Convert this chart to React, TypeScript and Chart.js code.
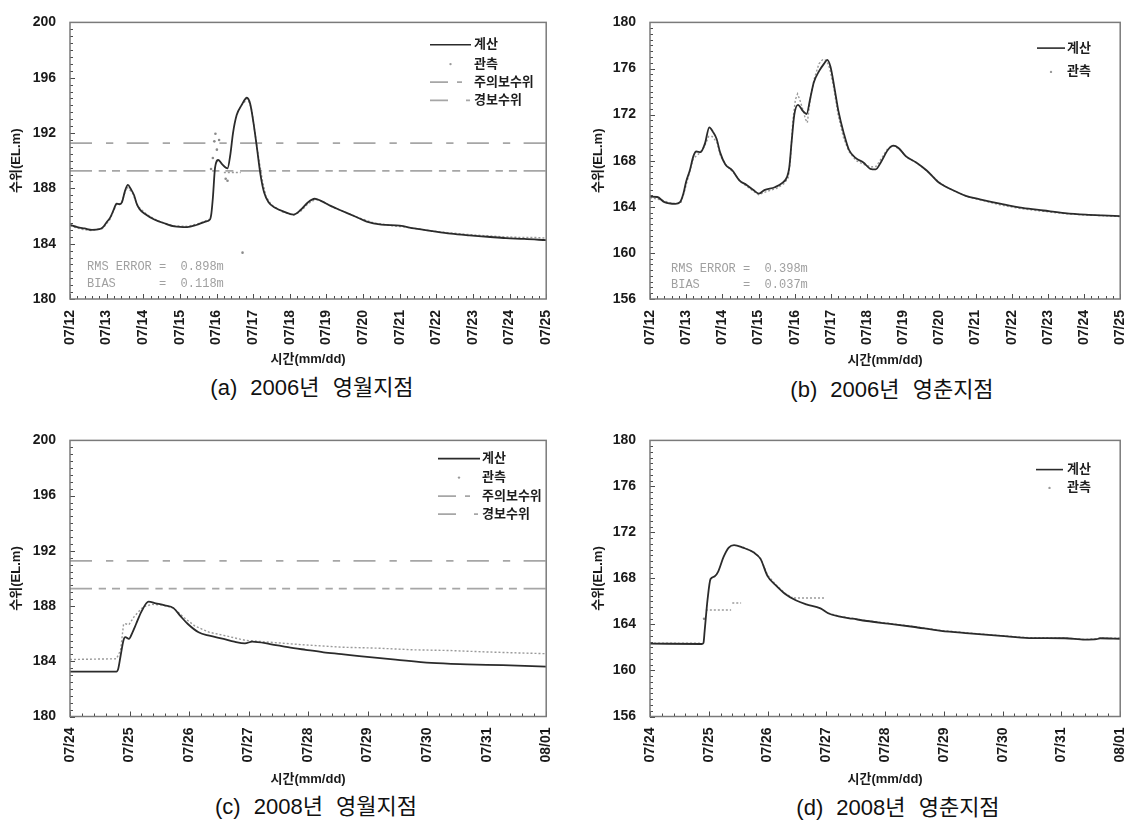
import React, { useEffect, useRef } from "react";
import { Chart, registerables } from "chart.js";

Chart.register(...registerables);

const FONT = "'Liberation Sans', 'Noto Sans CJK KR', sans-serif";
Chart.defaults.font.family = FONT;

// ---------- tick labels ----------
const DAYS_2006 = ["07/12", "07/13", "07/14", "07/15", "07/16", "07/17", "07/18", "07/19", "07/20", "07/21", "07/22", "07/23", "07/24", "07/25"];
const DAYS_2008 = ["07/24", "07/25", "07/26", "07/27", "07/28", "07/29", "07/30", "07/31", "08/01"];

// ---------- (a) 2006 영월 ----------
const A_CALC_T = [0, 0.2, 0.4, 0.6, 0.8, 0.9, 1.0, 1.1, 1.2, 1.27, 1.35, 1.42, 1.5, 1.58, 1.66, 1.75, 1.82, 1.9, 2.05, 2.3, 2.6, 2.85, 3.2, 3.45, 3.7, 3.82, 3.86, 3.9, 3.96, 4.05, 4.15, 4.3, 4.38, 4.45, 4.55, 4.68, 4.83, 4.92, 5.0, 5.1, 5.2, 5.3, 5.42, 5.6, 5.85, 6.1, 6.3, 6.5, 6.68, 6.85, 7.1, 7.4, 7.8, 8.1, 8.5, 9.0, 9.4, 9.9, 10.4, 10.9, 11.4, 11.9, 12.4, 13];
const A_CALC_V = [185.36, 185.2, 185.1, 185.0, 185.05, 185.2, 185.55, 185.9, 186.5, 186.9, 186.85, 187.0, 187.8, 188.25, 187.95, 187.5, 186.9, 186.5, 186.15, 185.75, 185.45, 185.25, 185.2, 185.35, 185.6, 185.75, 186.2, 187.3, 189.5, 190.05, 189.75, 189.45, 190.5, 192.0, 193.3, 194.0, 194.55, 194.1, 192.9, 191.0, 189.0, 187.7, 187.0, 186.6, 186.3, 186.1, 186.45, 187.0, 187.25, 187.1, 186.75, 186.4, 185.95, 185.6, 185.38, 185.3, 185.1, 184.9, 184.72, 184.6, 184.5, 184.4, 184.35, 184.25];
const A_OBS_T = [0, 0.3, 0.6, 0.9, 1.1, 1.25, 1.4, 1.55, 1.7, 1.85, 2.1, 2.4, 2.8, 3.2, 3.5, 3.8, 3.81, 4.2, 4.66, 4.67, 4.75, 4.85, 4.95, 5.05, 5.15, 5.25, 5.35, 5.5, 5.8, 6.1, 6.3, 6.5, 6.7, 6.9, 7.2, 7.5, 7.9, 8.3, 8.8, 9.3, 9.8, 10.3, 10.8, 11.3, 11.8, 12.3, 12.7, 13];
const A_OBS_V = [185.3, 185.05, 184.95, 185.1, 185.8, 186.8, 186.9, 188.1, 187.7, 186.7, 186.1, 185.65, 185.3, 185.25, 185.45, 185.75, null, 189.15, 189.15, null, 194.2, 194.5, 193.8, 192.0, 190.2, 188.6, 187.4, 186.8, 186.3, 186.05, 186.35, 186.9, 187.2, 187.05, 186.6, 186.3, 185.85, 185.5, 185.3, 185.15, 184.95, 184.8, 184.68, 184.58, 184.5, 184.45, 184.45, 184.4];
const A_OUT_T = [3.85, 3.9, 3.94, 3.97, 4.01, 4.07, 4.25, 4.3, 4.71];
const A_OUT_V = [189.4, 190.2, 191.4, 191.95, 190.8, 191.5, 188.7, 188.55, 183.35];

// ---------- (b) 2006 영춘 ----------
const B_CALC_T = [0, 0.2, 0.4, 0.7, 0.83, 0.92, 1.0, 1.1, 1.2, 1.28, 1.4, 1.52, 1.64, 1.74, 1.84, 1.94, 2.08, 2.28, 2.47, 2.67, 2.86, 3.01, 3.16, 3.45, 3.65, 3.79, 3.85, 3.92, 3.99, 4.09, 4.23, 4.33, 4.43, 4.53, 4.67, 4.82, 4.9, 4.99, 5.09, 5.21, 5.36, 5.5, 5.7, 5.9, 6.09, 6.24, 6.38, 6.58, 6.73, 6.87, 7.07, 7.36, 7.65, 7.95, 8.14, 8.44, 8.73, 9.12, 9.71, 10.3, 10.88, 11.47, 12.05, 12.5, 13];
const B_CALC_V = [164.88, 164.85, 164.4, 164.25, 164.4, 165.1, 166.2, 167.15, 168.4, 168.8, 168.75, 169.5, 170.9, 170.5, 169.9, 168.7, 167.7, 167.15, 166.3, 165.9, 165.45, 165.15, 165.45, 165.7, 166.05, 166.6, 167.4, 169.8, 172.0, 172.85, 172.3, 172.05, 173.4, 174.8, 175.75, 176.45, 176.75, 176.15, 174.5, 172.3, 170.35, 168.95, 168.2, 167.85, 167.3, 167.25, 167.85, 168.95, 169.3, 169.1, 168.4, 167.85, 167.15, 166.2, 165.8, 165.35, 164.95, 164.65, 164.25, 163.9, 163.68, 163.46, 163.32, 163.25, 163.19];
const B_OBS_T = [0, 0.3, 0.6, 0.85, 0.95, 1.05, 1.2, 1.35, 1.5, 1.62, 1.72, 1.85, 1.95, 2.1, 2.3, 2.5, 2.75, 3.0, 3.2, 3.5, 3.7, 3.82, 3.88, 3.95, 4.02, 4.08, 4.15, 4.22, 4.3, 4.35, 4.45, 4.55, 4.67, 4.78, 4.88, 4.97, 5.07, 5.2, 5.35, 5.5, 5.7, 5.9, 6.1, 6.25, 6.4, 6.58, 6.73, 6.9, 7.1, 7.4, 7.7, 8.0, 8.2, 8.5, 8.8, 9.2, 9.7, 10.3, 10.9, 11.5, 12.1, 12.6, 13];
const B_OBS_V = [164.8, 164.6, 164.3, 164.3, 165.3, 166.5, 168.2, 168.6, 169.2, 170.1, 170.1, 169.6, 168.4, 167.6, 167.0, 166.2, 165.6, 165.05, 165.3, 165.6, 166.0, 166.5, 168.0, 171.5, 173.3, 173.8, 173.2, 172.5, 171.6, 171.3, 173.8, 175.2, 176.4, 176.8, 176.7, 176.0, 174.5, 172.0, 170.0, 168.8, 168.0, 167.7, 167.45, 167.5, 168.2, 169.1, 169.3, 169.0, 168.3, 167.75, 167.0, 166.1, 165.7, 165.25, 164.85, 164.55, 164.15, 163.82, 163.6, 163.4, 163.28, 163.22, 163.15];
const B_OUT_T: number[] = [];
const B_OUT_V: number[] = [];

// ---------- (c) 2008 영월 ----------
const C_CALC_T = [0, 0.78, 0.81, 0.85, 0.9, 0.93, 0.99, 1.05, 1.11, 1.2, 1.32, 1.44, 1.59, 1.74, 1.86, 1.98, 2.16, 2.34, 2.58, 2.76, 2.94, 3.06, 3.36, 3.66, 3.96, 4.26, 4.56, 4.86, 5.47, 6.07, 6.67, 7.27, 8];
const C_CALC_V = [183.25, 183.25, 183.45, 184.4, 185.55, 185.75, 185.62, 186.1, 186.7, 187.6, 188.32, 188.2, 188.05, 187.85, 187.25, 186.7, 186.1, 185.85, 185.62, 185.42, 185.3, 185.42, 185.25, 185.02, 184.83, 184.65, 184.52, 184.38, 184.12, 183.88, 183.78, 183.72, 183.62];
const C_OBS_T = [0, 0.78, 0.85, 0.9, 0.93, 0.99, 1.08, 1.23, 1.38, 1.56, 1.74, 1.92, 2.1, 2.34, 2.58, 2.94, 3.36, 3.96, 4.56, 5.17, 5.77, 6.37, 6.97, 7.57, 8];
const C_OBS_V = [184.13, 184.18, 184.8, 186.7, 186.72, 186.65, 187.25, 187.95, 188.12, 188.08, 187.85, 187.15, 186.55, 186.1, 185.88, 185.52, 185.38, 185.18, 185.02, 184.95, 184.83, 184.78, 184.68, 184.6, 184.55];
const C_OUT_T: number[] = [];
const C_OUT_V: number[] = [];

// ---------- (d) 2008 영춘 ----------
const D_CALC_T = [0, 0.88, 0.91, 0.93, 0.98, 1.03, 1.1, 1.16, 1.25, 1.34, 1.43, 1.58, 1.76, 1.88, 2.0, 2.15, 2.3, 2.48, 2.66, 2.9, 3.03, 3.21, 3.45, 3.69, 4.05, 4.47, 4.95, 5.43, 5.97, 6.45, 7.06, 7.4, 7.6, 7.66, 8];
const D_CALC_V = [162.34, 162.3, 162.4, 163.45, 166.2, 167.95, 168.18, 168.6, 169.85, 170.68, 170.9, 170.68, 170.27, 169.7, 168.2, 167.35, 166.65, 166.1, 165.75, 165.4, 164.98, 164.7, 164.5, 164.3, 164.07, 163.8, 163.45, 163.23, 163.0, 162.82, 162.8, 162.68, 162.72, 162.8, 162.76];
const D_OBS_T = [0, 0.5, 0.88, 0.89, 0.95, 1.38, 1.39, 1.4, 1.55, 1.56, 1.58, 1.76, 1.88, 2.0, 2.15, 2.3, 2.42, 2.43, 2.45, 2.97, 2.98, 3.03, 3.21, 3.45, 3.69, 4.05, 4.47, 4.95, 5.43, 5.97, 6.45, 7.06, 7.4, 7.6, 7.66, 8];
const D_OBS_V = [162.38, 162.36, 162.38, null, 165.26, 165.26, null, 165.87, 165.87, null, 170.72, 170.3, 169.75, 168.3, 167.4, 166.7, 166.35, null, 166.3, 166.3, null, 165.0, 164.72, 164.52, 164.32, 164.1, 163.83, 163.48, 163.26, 163.03, 162.85, 162.83, 162.7, 162.75, 162.82, 162.8];
const D_OUT_T = [0.92];
const D_OUT_V = [164.5];

// ---------- flood levels (영월) ----------
const LEVEL_NAMES = ["주의보수위", "경보수위"];
const LEVEL_VALUES = [189.26, 191.27];

// ---------- statistics ----------
const STATS_A = ["RMS ERROR =  0.898m", "BIAS      =  0.118m"];
const STATS_B = ["RMS ERROR =  0.398m", "BIAS      =  0.037m"];

const CAPTIONS = ["(a) 2006년 영월지점", "(b) 2006년 영춘지점", "(c) 2008년 영월지점", "(d) 2008년 영춘지점"];

// ---------- helpers ----------
const pts = (t: number[], v: (number | null)[]) => t.map((x, i) => ({ x, y: v[i] }));

const W = 574;
const H = 372;

type PanelSpec = {
  left: number;
  top: number;
  yAxisW: number;
  padRight: number;
  padTop: number;
  yMin: number;
  yMax: number;
  labels: string[];
  calc: any[];
  obs: any[];
  out: any[];
  levels: boolean;
  yTitleOffset: number;
  xTitlePadBottom: number;
  legendX0: number;
  legendX1: number;
  legendTextX: number;
  legendRows: number[];
  stats: string[] | null;
  statsX: number;
  statsRows: number[];
};

const LEVEL_DASHES = [
  [22, 6.7, 7.3, 6, 8, 6.7],
  [22, 14, 7.3, 13.4],
];
const LEVEL_LEGEND_DASH = [
  [18, 9, 5, 200],
  [18, 18, 4, 200],
];

function makeDeco(spec: PanelSpec) {
  return {
    id: "deco",
    afterDatasetsDraw(chart: any) {
      const { ctx, chartArea: a, scales } = chart;
      const xs = scales.x;
      const ys = scales.y;
      ctx.save();
      // inward ticks
      ctx.strokeStyle = "#4a4a4a";
      ctx.lineWidth = 1;
      ctx.beginPath();
      const nY = Math.round((spec.yMax - spec.yMin) * 2);
      for (let k = 0; k <= nY; k++) {
        const v = spec.yMin + k / 2;
        const py = Math.round(ys.getPixelForValue(v)) + 0.5;
        const len = k % 8 === 0 ? 5 : 3;
        ctx.moveTo(a.left, py);
        ctx.lineTo(a.left + len, py);
      }
      const nX = (spec.labels.length - 1) * 5;
      for (let k = 0; k <= nX; k++) {
        const px = Math.round(xs.getPixelForValue(k / 5)) + 0.5;
        const len = k % 5 === 0 ? 5 : 3;
        ctx.moveTo(px, a.bottom);
        ctx.lineTo(px, a.bottom - len);
      }
      ctx.stroke();
      // frame
      ctx.strokeStyle = "#7a7a7a";
      ctx.lineWidth = 1.5;
      ctx.strokeRect(a.left, a.top, a.right - a.left, a.bottom - a.top);

      // legend
      const items: { label: string; kind: string; dash?: number[] }[] = [
        { label: "계산", kind: "line" },
        { label: "관측", kind: "dot" },
      ];
      if (spec.levels) {
        items.push({ label: LEVEL_NAMES[0], kind: "dash", dash: LEVEL_LEGEND_DASH[0] });
        items.push({ label: LEVEL_NAMES[1], kind: "dash", dash: LEVEL_LEGEND_DASH[1] });
      }
      const x0 = a.left + spec.legendX0;
      const x1 = a.left + spec.legendX1;
      items.forEach((it, i) => {
        const y = a.top + spec.legendRows[i];
        if (it.kind === "line") {
          ctx.setLineDash([]);
          ctx.strokeStyle = "#2b2b2b";
          ctx.lineWidth = 1.6;
          ctx.beginPath();
          ctx.moveTo(x0, y);
          ctx.lineTo(x1, y);
          ctx.stroke();
        } else if (it.kind === "dot") {
          ctx.fillStyle = "#9a9a9a";
          ctx.beginPath();
          ctx.arc((x0 + x1) / 2, y, 1.2, 0, Math.PI * 2);
          ctx.fill();
        } else {
          ctx.setLineDash(it.dash || []);
          ctx.strokeStyle = "#a6a6a6";
          ctx.lineWidth = 1.8;
          ctx.beginPath();
          ctx.moveTo(x0, y);
          ctx.lineTo(x1, y);
          ctx.stroke();
          ctx.setLineDash([]);
        }
        ctx.fillStyle = "#1e1e1e";
        ctx.font = "bold 13px " + FONT;
        ctx.textAlign = "left";
        ctx.textBaseline = "middle";
        ctx.fillText(it.label, a.left + spec.legendTextX, y);
      });

      // statistics text
      if (spec.stats) {
        ctx.fillStyle = "#a0a0a0";
        ctx.font = "12px 'Liberation Mono', 'DejaVu Sans Mono', monospace";
        ctx.textAlign = "left";
        ctx.textBaseline = "middle";
        spec.stats.forEach((s, i) => {
          ctx.fillText(s, a.left + spec.statsX, a.top + spec.statsRows[i]);
        });
      }
      ctx.restore();
    },
  };
}

function buildConfig(spec: PanelSpec): any {
  const datasets: any[] = [
    {
      label: "계산",
      data: spec.calc,
      borderColor: "#2b2b2b",
      borderWidth: 1.8,
      pointRadius: 0,
      cubicInterpolationMode: "monotone",
      order: 0,
    },
    {
      label: "관측",
      data: spec.obs,
      borderColor: "#9a9a9a",
      borderWidth: 1.4,
      borderDash: [2, 2],
      pointRadius: 0,
      spanGaps: false,
      order: 2,
    },
    {
      label: "관측 ",
      data: spec.out,
      showLine: false,
      pointRadius: 1.3,
      pointBorderWidth: 0,
      pointBackgroundColor: "#8a8a8a",
      order: 1,
    },
  ];
  if (spec.levels) {
    const last = spec.labels.length - 1;
    LEVEL_VALUES.forEach((v, i) => {
      datasets.push({
        label: LEVEL_NAMES[i],
        data: [
          { x: 0, y: v },
          { x: last, y: v },
        ],
        borderColor: "#a6a6a6",
        borderWidth: 1.8,
        borderDash: LEVEL_DASHES[i],
        pointRadius: 0,
        order: 3,
      });
    });
  }
  const tickFont = { size: 14, weight: "bold" as const, family: FONT };
  const titleFont = { size: 13, weight: "bold" as const, family: FONT };
  return {
    type: "line",
    data: { datasets },
    options: {
      animation: false,
      responsive: false,
      maintainAspectRatio: false,
      devicePixelRatio: 1,
      events: [],
      layout: { padding: { left: 0, right: spec.padRight, top: spec.padTop, bottom: 0 } },
      scales: {
        x: {
          type: "linear",
          min: 0,
          max: spec.labels.length - 1,
          grid: { display: false, drawTicks: false },
          border: { display: false },
          ticks: {
            stepSize: 1,
            autoSkip: false,
            minRotation: 90,
            maxRotation: 90,
            padding: 11,
            color: "#1a1a1a",
            font: tickFont,
            callback: (v: number) => spec.labels[Math.round(v)] ?? "",
          },
          title: {
            display: true,
            text: "시간(mm/dd)",
            color: "#1a1a1a",
            font: titleFont,
            padding: { top: 0, bottom: spec.xTitlePadBottom },
          },
          afterFit: (s: any) => {
            s.height = H - spec.padTop - 288;
          },
        },
        y: {
          type: "linear",
          min: spec.yMin,
          max: spec.yMax,
          grid: { display: false, drawTicks: false },
          border: { display: false },
          ticks: {
            stepSize: 4,
            padding: 14,
            color: "#1a1a1a",
            font: tickFont,
          },
          title: {
            display: true,
            text: "수위(EL.m)",
            color: "#1a1a1a",
            font: titleFont,
            padding: { top: spec.yTitleOffset - 7.8, bottom: 0 },
          },
          afterFit: (s: any) => {
            s.width = spec.yAxisW;
          },
        },
      },
      plugins: {
        legend: { display: false },
        tooltip: { enabled: false },
      },
    },
    plugins: [makeDeco(spec)],
  };
}

const SPECS: PanelSpec[] = [
  {
    left: 0, top: 0, yAxisW: 70, padRight: 16.5, padTop: 11, yMin: 180, yMax: 200,
    labels: DAYS_2006, calc: pts(A_CALC_T, A_CALC_V), obs: pts(A_OBS_T, A_OBS_V), out: pts(A_OUT_T, A_OUT_V),
    levels: true, yTitleOffset: 16.5, xTitlePadBottom: 4.9,
    legendX0: 360, legendX1: 401, legendTextX: 404, legendRows: [22.3, 41.7, 59.7, 78],
    stats: STATS_A, statsX: 17, statsRows: [244.7, 261.3],
  },
  {
    left: 574, top: 0, yAxisW: 76, padRight: 11, padTop: 11, yMin: 156, yMax: 180,
    labels: DAYS_2006, calc: pts(B_CALC_T, B_CALC_V), obs: pts(B_OBS_T, B_OBS_V), out: pts(B_OUT_T, B_OUT_V),
    levels: false, yTitleOffset: 24, xTitlePadBottom: 4.2,
    legendX0: 387, legendX1: 415, legendTextX: 417, legendRows: [25.7, 49.5],
    stats: STATS_B, statsX: 21, statsRows: [246.7, 262.3],
  },
  {
    left: 0, top: 418, yAxisW: 70, padRight: 16.5, padTop: 10.5, yMin: 180, yMax: 200,
    labels: DAYS_2008, calc: pts(C_CALC_T, C_CALC_V), obs: pts(C_OBS_T, C_OBS_V), out: pts(C_OUT_T, C_OUT_V),
    levels: true, yTitleOffset: 16.5, xTitlePadBottom: 2.9,
    legendX0: 368, legendX1: 410, legendTextX: 412, legendRows: [18.2, 37.2, 55.8, 73.8],
    stats: null, statsX: 0, statsRows: [],
  },
  {
    left: 574, top: 418, yAxisW: 76, padRight: 11, padTop: 10.5, yMin: 156, yMax: 180,
    labels: DAYS_2008, calc: pts(D_CALC_T, D_CALC_V), obs: pts(D_OBS_T, D_OBS_V), out: pts(D_OUT_T, D_OUT_V),
    levels: false, yTitleOffset: 24, xTitlePadBottom: 2.9,
    legendX0: 386, legendX1: 413, legendTextX: 417, legendRows: [29.2, 47.5],
    stats: null, statsX: 0, statsRows: [],
  },
];

const CAPTION_POS = [
  { cx: 312, cy: 388 },
  { cx: 892, cy: 390 },
  { cx: 316, cy: 807 },
  { cx: 898, cy: 808 },
];

function Panel({ spec }: { spec: PanelSpec }) {
  const ref = useRef<HTMLCanvasElement | null>(null);
  useEffect(() => {
    if (!ref.current) return;
    const chart = new Chart(ref.current, buildConfig(spec));
    return () => chart.destroy();
  }, [spec]);
  return (
    <canvas
      ref={ref}
      width={W}
      height={H}
      style={{ position: "absolute", left: spec.left, top: spec.top, width: W, height: H, display: "block" }}
    />
  );
}

export default function App() {
  return (
    <div
      style={{
        position: "fixed",
        left: 0,
        top: 0,
        width: 1148,
        height: 823,
        background: "#ffffff",
        overflow: "hidden",
      }}
    >
      {SPECS.map((s, i) => (
        <Panel key={i} spec={s} />
      ))}
      {CAPTIONS.map((c, i) => (
        <div
          key={"c" + i}
          style={{
            position: "absolute",
            left: CAPTION_POS[i].cx - 200,
            top: CAPTION_POS[i].cy - 14,
            width: 400,
            height: 28,
            lineHeight: "28px",
            textAlign: "center",
            fontFamily: FONT,
            fontSize: 22,
            color: "#111",
            wordSpacing: "7px",
            whiteSpace: "pre",
          }}
        >
          {c}
        </div>
      ))}
    </div>
  );
}
